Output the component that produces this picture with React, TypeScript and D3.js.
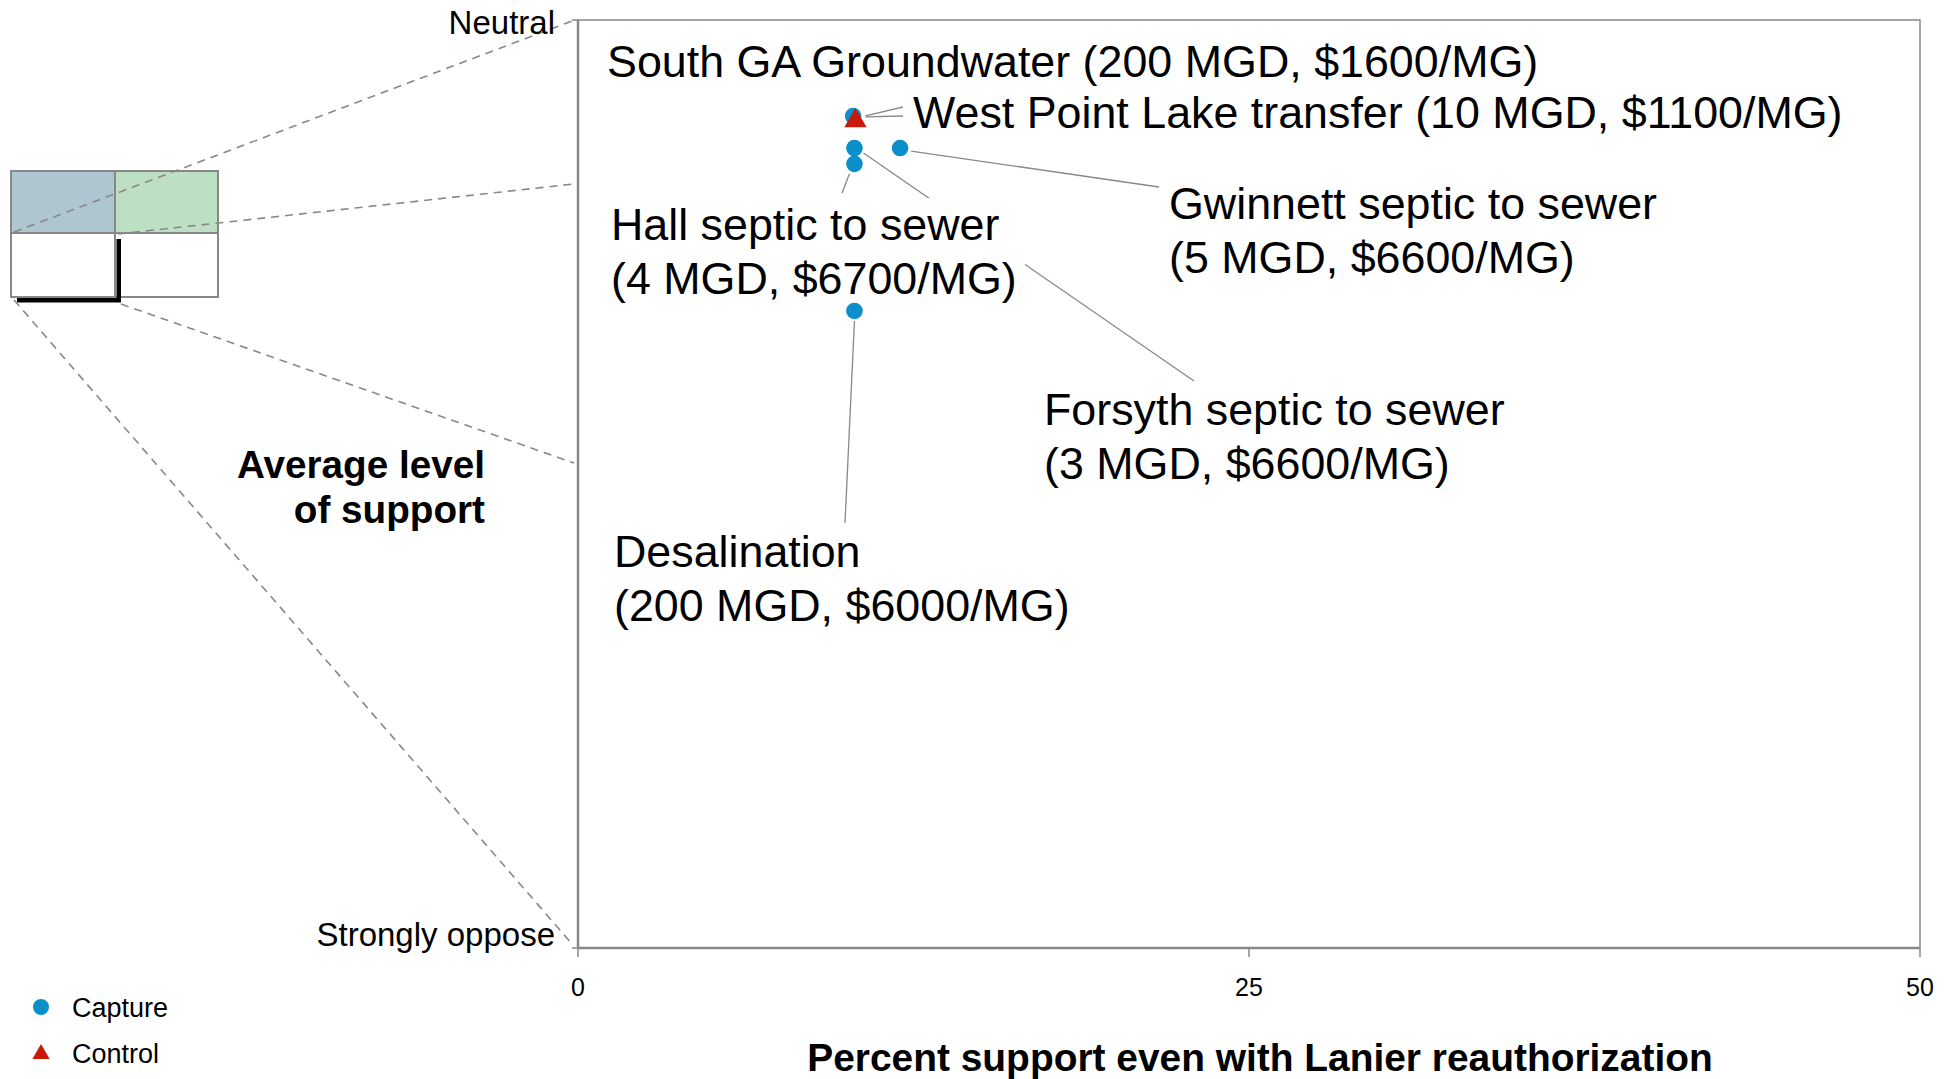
import React from "react";
import * as d3 from "d3";

// ---------- data ----------
const captureNames = [
  "South GA Groundwater",
  "Forsyth septic to sewer",
  "Hall septic to sewer",
  "Gwinnett septic to sewer",
  "Desalination",
];
const capturePct = [10.25, 10.3, 10.3, 12.0, 10.3];
const captureSupport = [2.793, 2.724, 2.69, 2.724, 2.373];

const controlNames = ["West Point Lake transfer"];
const controlPct = [10.3];
const controlSupport = [2.789];

const xTicks = [0, 25, 50];
const yTickValues = [1, 3];
const yTickLabels = ["Strongly oppose", "Neutral"];

const legendLabels = ["Capture", "Control"];

// ---------- layout ----------
const W = 1954;
const H = 1079;
const M = { left: 578, right: 1920, top: 20, bottom: 948 };
const FONT = "'Liberation Sans', Arial, Helvetica, sans-serif";
const BLUE = "#0a8fca";
const RED = "#c8190a";
const GRAY = "#888888";

const x = d3.scaleLinear().domain([0, 50]).range([M.left, M.right]);
const y = d3.scaleLinear().domain([1, 3]).range([M.bottom, M.top]);

type Ann = {
  series: "capture" | "control";
  name: string;
  lines: string[];
  lx: number;
  ly: number;
  leaders: { dx: number; dy: number; tx: number; ty: number }[];
  mask?: boolean;
};
const annotations: Ann[] = [
  { series: "capture", name: "South GA Groundwater", lines: ["South GA Groundwater (200 MGD, $1600/MG)"], lx: 607, ly: 77, leaders: [] },
  { series: "control", name: "West Point Lake transfer", lines: ["West Point Lake transfer (10 MGD, $1100/MG)"], lx: 913, ly: 128,
    leaders: [ { dx: 11, dy: -2, tx: 903, ty: 107 }, { dx: 11, dy: -1, tx: 903, ty: 116 } ] },
  { series: "capture", name: "Gwinnett septic to sewer", lines: ["Gwinnett septic to sewer", "(5 MGD, $6600/MG)"], lx: 1169, ly: 219,
    leaders: [ { dx: 11, dy: 3, tx: 1159, ty: 187 } ] },
  { series: "capture", name: "Forsyth septic to sewer", lines: ["Forsyth septic to sewer", "(3 MGD, $6600/MG)"], lx: 1044, ly: 425,
    leaders: [ { dx: 9, dy: 5, tx: 1194, ty: 381 } ] },
  { series: "capture", name: "Hall septic to sewer", lines: ["Hall septic to sewer", "(4 MGD, $6700/MG)"], lx: 611, ly: 240,
    leaders: [ { dx: -5, dy: 10, tx: 842, ty: 193 } ], mask: true },
  { series: "capture", name: "Desalination", lines: ["Desalination", "(200 MGD, $6000/MG)"], lx: 614, ly: 567,
    leaders: [ { dx: 0, dy: 10, tx: 845, ty: 523 } ] },
];

function pointOf(a: Ann): [number, number] {
  if (a.series === "control") {
    const i = controlNames.indexOf(a.name);
    return [x(controlPct[i]), y(controlSupport[i])];
  }
  const i = captureNames.indexOf(a.name);
  return [x(capturePct[i]), y(captureSupport[i])];
}

const ANN_FS = 44.8;
const LINE_H = 54;

export default function App() {
  const tri = d3.symbol().type(d3.symbolTriangle).size(215)();
  const triLegend = d3.symbol().type(d3.symbolTriangle).size(130)();

  const leaderEls: React.ReactNode[] = [];
  annotations.forEach((a, ai) => {
    const [px, py] = pointOf(a);
    a.leaders.forEach((l, li) => {
      leaderEls.push(
        <line key={`l${ai}-${li}`} x1={px + l.dx} y1={py + l.dy} x2={l.tx} y2={l.ty} stroke={GRAY} strokeWidth={1.3} />
      );
    });
  });

  return (
    <div style={{ position: "absolute", left: 0, top: 0 }}>
      <svg width={W} height={H} style={{ display: "block", background: "#fff" }} fontFamily={FONT}>
        {/* inset grid */}
        <g>
          <rect x={11} y={171} width={104} height={62} fill="#adc6d0" stroke={GRAY} strokeWidth={2} />
          <rect x={115} y={171} width={103} height={62} fill="#bddfc4" stroke={GRAY} strokeWidth={2} />
          <rect x={11} y={233} width={104} height={64} fill="#fff" stroke={GRAY} strokeWidth={2} />
          <rect x={115} y={233} width={103} height={64} fill="#fff" stroke={GRAY} strokeWidth={2} />
          <rect x={17} y={298} width={104} height={4.5} fill="#000" />
          <rect x={116.5} y={239} width={4.5} height={63} fill="#000" />
        </g>
        {/* perspective dashed lines */}
        <g stroke={GRAY} strokeWidth={1.6} strokeDasharray="8,6" fill="none">
          <line x1={14} y1={232} x2={572} y2={y(3) + 1} />
          <line x1={118} y1={234} x2={574} y2={184} />
          <line x1={121} y1={304} x2={574} y2={463} />
          <line x1={14} y1={300} x2={572} y2={y(1) - 4} />
        </g>

        {/* plot frame */}
        <rect x={M.left} y={M.top} width={M.right - M.left} height={M.bottom - M.top} fill="none" stroke={GRAY} strokeWidth={1.5} />
        <line x1={M.left} y1={M.bottom} x2={M.right} y2={M.bottom} stroke={GRAY} strokeWidth={2.5} />
        <line x1={M.left} y1={M.top} x2={M.left} y2={M.bottom} stroke={GRAY} strokeWidth={2.5} />

        {/* x axis ticks */}
        {xTicks.map((t) => (
          <g key={`xt${t}`}>
            <line x1={x(t)} x2={x(t)} y1={M.bottom} y2={M.bottom + 9} stroke={GRAY} strokeWidth={1.5} />
            <text x={x(t)} y={996} textAnchor="middle" fontSize={25} fill="#000">{t}</text>
          </g>
        ))}
        {/* y axis ticks */}
        {yTickValues.map((v, i) => (
          <g key={`yt${v}`}>
            <line x1={M.left - 6} x2={M.left} y1={y(v)} y2={y(v)} stroke={GRAY} strokeWidth={1.5} />
            <text x={555} y={v === 3 ? 34 : 946} textAnchor="end" fontSize={33} fill="#000">{yTickLabels[i]}</text>
          </g>
        ))}

        {/* axis titles */}
        <text x={485} y={478} textAnchor="end" fontSize={38.7} fontWeight="bold" fill="#000">Average level</text>
        <text x={485} y={523} textAnchor="end" fontSize={38.7} fontWeight="bold" fill="#000">of support</text>
        <text x={1260} y={1071} textAnchor="middle" fontSize={38.9} fontWeight="bold" fill="#000">
          Percent support even with Lanier reauthorization
        </text>

        {/* leader lines */}
        {leaderEls}

        {/* labels */}
        {annotations.map((a, ai) => (
          <g key={`a${ai}`}>
            {a.mask && (
              <rect x={a.lx - 4} y={a.ly - 42} width={418} height={a.lines.length * LINE_H + 4} fill="#fff" />
            )}
            {a.lines.map((ln, li) => (
              <text key={li} x={a.lx} y={a.ly + li * LINE_H} fontSize={ANN_FS} fill="#000">{ln}</text>
            ))}
          </g>
        ))}

        {/* points */}
        {capturePct.map((p, i) => (
          <circle key={`c${i}`} cx={x(p)} cy={y(captureSupport[i])} r={8.3} fill={BLUE} />
        ))}
        {controlPct.map((p, i) => (
          <path key={`t${i}`} d={tri as string} transform={`translate(${x(p) + 1},${y(controlSupport[i]) + 3})`} fill={RED} />
        ))}

        {/* legend */}
        <circle cx={41} cy={1007} r={8} fill={BLUE} />
        <text x={72} y={1017} fontSize={27} fill="#000">{legendLabels[0]}</text>
        <path d={triLegend as string} transform="translate(41,1054)" fill={RED} />
        <text x={72} y={1063} fontSize={27} fill="#000">{legendLabels[1]}</text>
      </svg>
    </div>
  );
}
